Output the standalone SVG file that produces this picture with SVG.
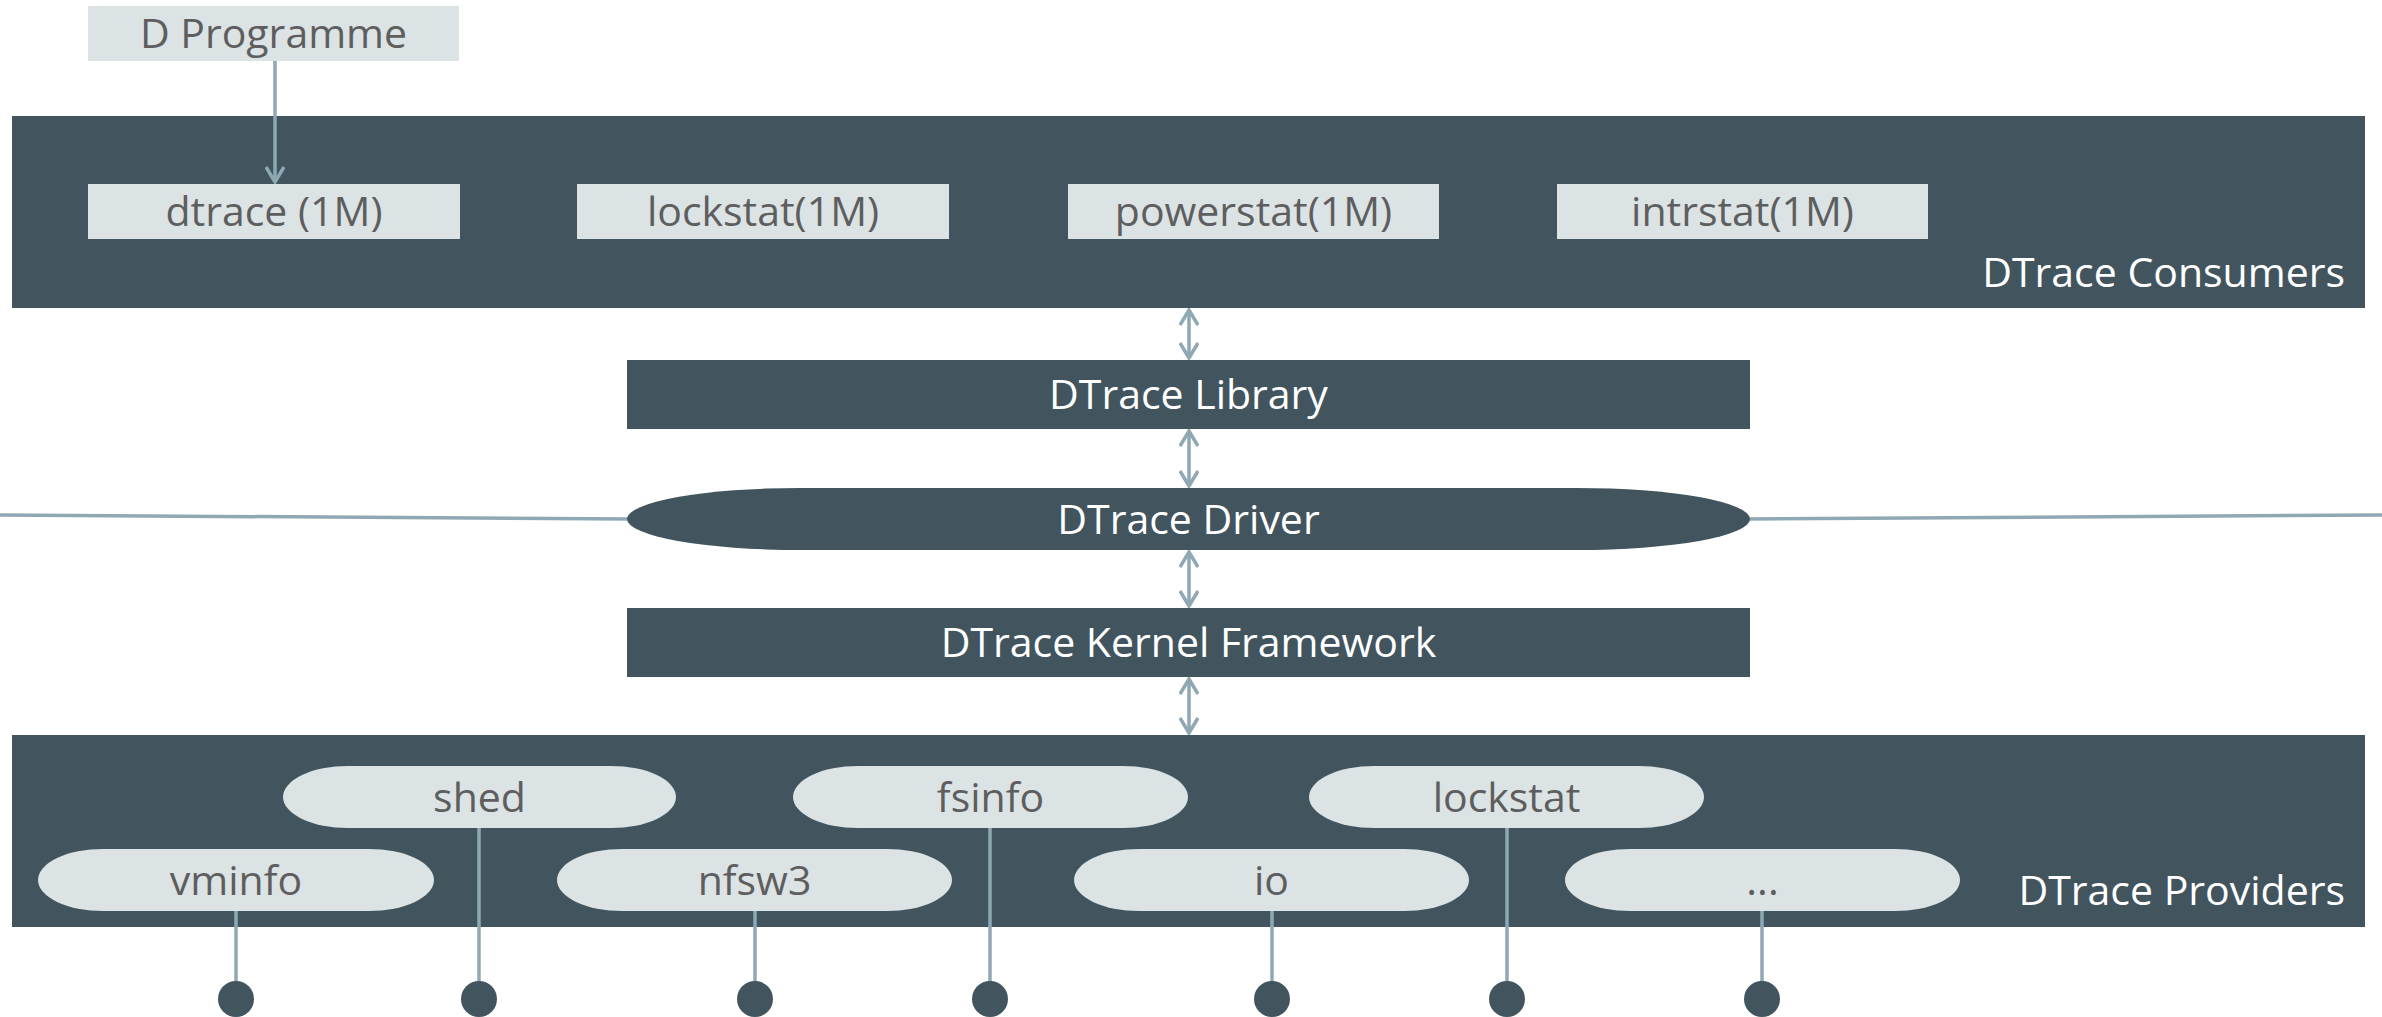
<svg xmlns="http://www.w3.org/2000/svg" width="2382" height="1017" viewBox="0 0 2382 1017">
<style>
.panel{fill:#42555F}
.light{fill:#DCE3E5}
.dark{fill:#42555F}
.tl{font-family:"Open Sans","Noto Sans",sans-serif;font-size:41px;fill:#5E5E5E;text-anchor:middle}
.tw{font-family:"Open Sans","Noto Sans",sans-serif;font-size:41px;fill:#FFFFFF;text-anchor:middle}
.tr{font-family:"Open Sans","Noto Sans",sans-serif;font-size:41px;fill:#FFFFFF;text-anchor:end}
.conn{stroke:#8FA8B3;stroke-width:3.5;fill:none}
.dot{fill:#42555F}
</style>
<defs>
<marker id="chev" viewBox="0 0 18 20" markerWidth="18" markerHeight="20" refX="16" refY="10" orient="auto-start-reverse" markerUnits="userSpaceOnUse">
<path d="M1,1 L16,10 L1,19" fill="none" stroke="#8FA8B3" stroke-width="3.5"/>
</marker>
</defs>
<g id="consumers">
<rect class="panel" x="12" y="116" width="2353" height="192"/>
<text class="tr" x="2345" y="287">DTrace Consumers</text>
</g>
<g id="providers">
<rect class="panel" x="12" y="735" width="2353" height="192"/>
<text class="tr" x="2345" y="905">DTrace Providers</text>
</g>
<g id="connectors">
<line class="conn" x1="275" y1="61" x2="275" y2="182" marker-end="url(#chev)"/>
<line class="conn" x1="1189" y1="310" x2="1189" y2="358" marker-start="url(#chev)" marker-end="url(#chev)"/>
<line class="conn" x1="1189" y1="431" x2="1189" y2="486" marker-start="url(#chev)" marker-end="url(#chev)"/>
<line class="conn" x1="1189" y1="552" x2="1189" y2="606" marker-start="url(#chev)" marker-end="url(#chev)"/>
<line class="conn" x1="1189" y1="679" x2="1189" y2="733" marker-start="url(#chev)" marker-end="url(#chev)"/>
<line class="conn" x1="0" y1="515" x2="630" y2="519"/>
<line class="conn" x1="1747" y1="519" x2="2382" y2="515"/>
<line class="conn" x1="236" y1="911" x2="236" y2="985"/>
<line class="conn" x1="479" y1="828" x2="479" y2="985"/>
<line class="conn" x1="755" y1="911" x2="755" y2="985"/>
<line class="conn" x1="990" y1="828" x2="990" y2="985"/>
<line class="conn" x1="1272" y1="911" x2="1272" y2="985"/>
<line class="conn" x1="1507" y1="828" x2="1507" y2="985"/>
<line class="conn" x1="1762" y1="911" x2="1762" y2="985"/>
</g>
<g id="d-programme">
<rect class="light" x="88" y="6" width="371" height="55"/>
<text class="tl" x="273.5" y="48">D Programme</text>
</g>
<g id="dtrace">
<rect class="light" x="88" y="184" width="372" height="55"/>
<text class="tl" x="274" y="226">dtrace (1M)</text>
</g>
<g id="lockstat-c">
<rect class="light" x="577" y="184" width="372" height="55"/>
<text class="tl" x="763" y="226">lockstat(1M)</text>
</g>
<g id="powerstat">
<rect class="light" x="1068" y="184" width="371" height="55"/>
<text class="tl" x="1253.5" y="226">powerstat(1M)</text>
</g>
<g id="intrstat">
<rect class="light" x="1557" y="184" width="371" height="55"/>
<text class="tl" x="1742.5" y="226">intrstat(1M)</text>
</g>
<g id="library">
<rect class="dark" x="627" y="360" width="1123" height="69"/>
<text class="tw" x="1188.5" y="409">DTrace Library</text>
</g>
<g id="driver">
<rect class="dark" x="627" y="488" width="1123" height="62" rx="173" ry="31"/>
<text class="tw" x="1188.5" y="534">DTrace Driver</text>
</g>
<g id="kernel">
<rect class="dark" x="627" y="608" width="1123" height="69"/>
<text class="tw" x="1188.5" y="657">DTrace Kernel Framework</text>
</g>
<g id="shed">
<rect class="light" x="283" y="766" width="393" height="62" rx="65" ry="31"/>
<text class="tl" x="479.5" y="812">shed</text>
</g>
<g id="fsinfo">
<rect class="light" x="793" y="766" width="395" height="62" rx="65" ry="31"/>
<text class="tl" x="990.5" y="812">fsinfo</text>
</g>
<g id="lockstat-p">
<rect class="light" x="1309" y="766" width="395" height="62" rx="65" ry="31"/>
<text class="tl" x="1506.5" y="812">lockstat</text>
</g>
<g id="vminfo">
<rect class="light" x="38" y="849" width="396" height="62" rx="65" ry="31"/>
<text class="tl" x="236" y="895">vminfo</text>
</g>
<g id="nfsw3">
<rect class="light" x="557" y="849" width="395" height="62" rx="65" ry="31"/>
<text class="tl" x="754.5" y="895">nfsw3</text>
</g>
<g id="io">
<rect class="light" x="1074" y="849" width="395" height="62" rx="65" ry="31"/>
<text class="tl" x="1271.5" y="895">io</text>
</g>
<g id="more">
<rect class="light" x="1565" y="849" width="395" height="62" rx="65" ry="31"/>
<text class="tl" x="1762.5" y="895">...</text>
</g>
<g id="dots">
<circle class="dot" cx="236" cy="999" r="18"/>
<circle class="dot" cx="479" cy="999" r="18"/>
<circle class="dot" cx="755" cy="999" r="18"/>
<circle class="dot" cx="990" cy="999" r="18"/>
<circle class="dot" cx="1272" cy="999" r="18"/>
<circle class="dot" cx="1507" cy="999" r="18"/>
<circle class="dot" cx="1762" cy="999" r="18"/>
</g>
</svg>
